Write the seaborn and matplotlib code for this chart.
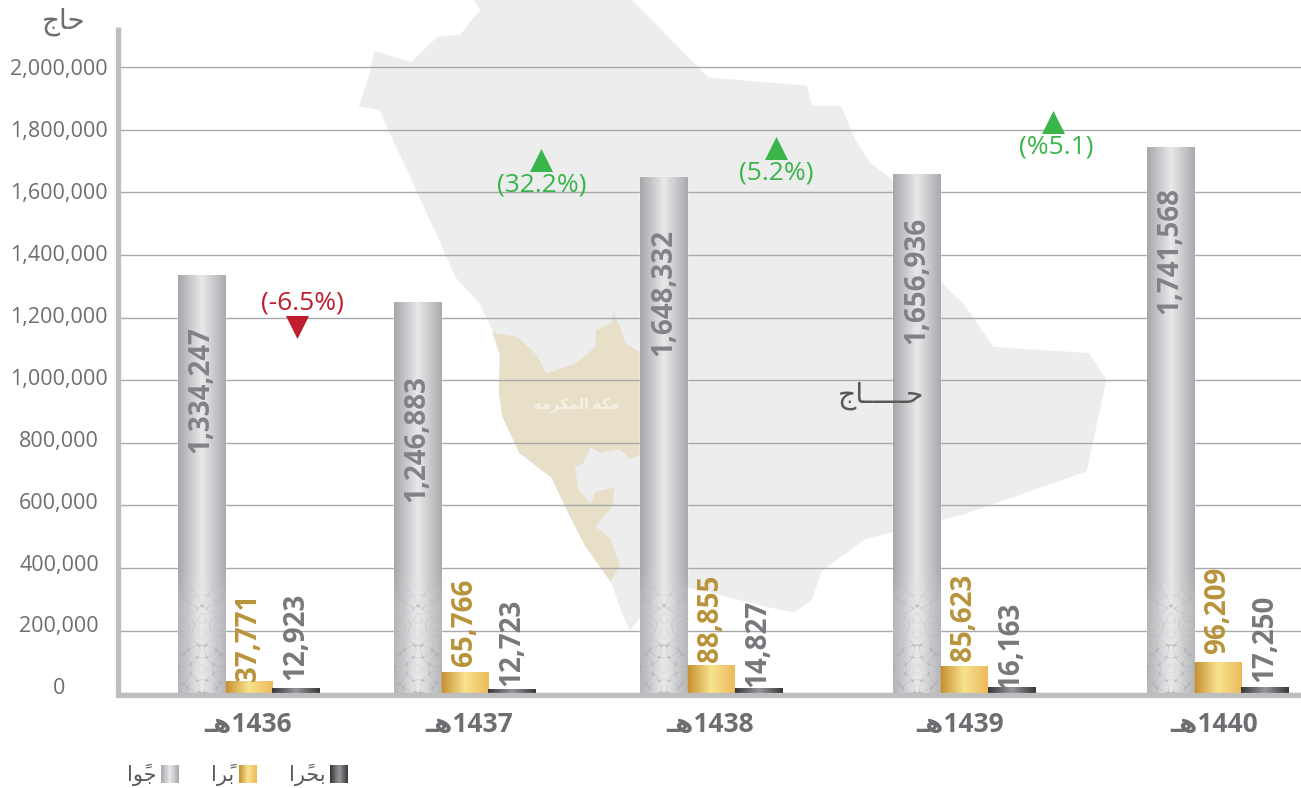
import numpy as np
import pandas as pd
import matplotlib
matplotlib.use("Agg")
import matplotlib.pyplot as plt
from matplotlib.patches import Polygon, Rectangle
from matplotlib.legend_handler import HandlerBase
from matplotlib.colors import LinearSegmentedColormap, to_rgb
from matplotlib.transforms import ScaledTranslation
import seaborn as sns

# ---------- data ----------
years = ["1436", "1437", "1438", "1439", "1440"]
air = [1334247, 1246883, 1648332, 1656936, 1741568]
land = [37771, 65766, 88855, 85623, 96209]
sea = [12923, 12723, 14827, 16163, 17250]
change_labels = ["(-6.5%)", "(32.2%)", "(5.2%)", "(%5.1)"]
hijri_suffix = "\u0640\uFEEB"              # visual-order Arabic presentation forms
mode_air = "\uFE8D\uFEEE\u064B\uFE9F"
mode_land = "\uFE8D\uFEAE\u064B\uFE91"
mode_sea = "\uFE8D\uFEAE\u064B\uFEA4\uFE91"
unit_short = "\uFE9D\uFE8E\uFEA3"
unit_long = "\uFE9D\uFE8E\u0640\u0640\u0640\u0640\u0640\uFEA3"
mecca = "\uFEEA\uFEE3\uFEAE\uFEDC\uFEE4\uFEDF\uFE8D \uFE94\uFEDC\uFEE3"
y_ticks = [0, 200000, 400000, 600000, 800000, 1000000, 1200000, 1400000, 1600000, 1800000, 2000000]

# ---------- layout (figure pixels) ----------
W, H = 1301, 788
Y0, PX_PER_200K, AX_TOP, AX_LEFT = 693.3, 62.6, 27, 118
group_px = [248.5, 464.5, 711, 964, 1217.5]
xtick_shift_px = [0, 5, -1, -4, -3.5]
air_label_y = [390, 438, 292.5, 280.5, 251]
land_label_y = [637, 622.5, 618, 617, 610]
sea_label_y = [636, 642.5, 643, 645.5, 638]
change_pos = [(302, 303), (542, 185), (776, 173), (1056, 147)]
tri_pos = [(297.5, 327.5), (541.5, 160), (776.5, 148), (1053, 122)]

GREY = "#6d6e71"
GREEN = "#3ab54a"
RED = "#be1e2d"


def py(p):
    return (Y0 - p) / PX_PER_200K * 200000


sns.set_theme(style="white")
plt.rcParams["font.family"] = ["Open Sans", "DejaVu Sans"]

fig = plt.figure(figsize=(W / 100, H / 100), dpi=100)
fig.patch.set_facecolor("white")

# ---------- background map ----------
bg = fig.add_axes([0, 0, 1, 1], zorder=0)
bg.set_xlim(0, W)
bg.set_ylim(H, 0)
bg.axis("off")


def zoom_pts(pts):
    return [(350 + a / 2.036, b / 2.45) for a, b in pts]


map_outline = [(250, -5), (265, 25), (240, 60), (225, 85), (178, 90), (125, 152), (50, 125), (40, 180),
               (18, 260), (60, 270), (90, 350), (125, 440), (155, 520), (175, 570), (215, 680), (265, 745),
               (290, 810), (305, 870), (303, 960), (310, 1020), (345, 1110), (410, 1170), (450, 1270),
               (480, 1340), (530, 1420), (550, 1490), (570, 1545), (600, 1500), (690, 1440), (760, 1460),
               (860, 1490), (905, 1500), (940, 1470), (960, 1400), (1050, 1320), (1250, 1260), (1500, 1155),
               (1540, 930), (1505, 865), (1310, 850), (1250, 745), (1210, 700), (1190, 660), (1100, 435),
               (1060, 400), (1030, 345), (1000, 260), (940, 258), (930, 210), (730, 190), (570, -5)]
mecca_outline = [(290, 815), (340, 825), (380, 870), (400, 915), (460, 890), (500, 850), (500, 810), (535, 790),
                 (535, 762), (550, 800), (560, 840), (600, 870), (600, 1110), (570, 1125), (550, 1100), (510, 1110),
                 (490, 1095), (475, 1135), (458, 1145), (465, 1200), (490, 1235), (500, 1205), (538, 1195),
                 (535, 1240), (500, 1290), (530, 1320), (550, 1385), (530, 1425), (480, 1340), (450, 1270),
                 (410, 1170), (345, 1110), (310, 1020), (303, 960), (305, 870)]
bg.add_patch(Polygon(zoom_pts(map_outline), closed=True, fc="#ededee", ec="none"))
bg.add_patch(Polygon(zoom_pts(mecca_outline), closed=True, fc="#e8dfc8", ec="none"))
bg.text(576, 405, mecca, ha="center", va="center", color="#f4f0e4", fontsize=10.5, fontweight="bold")

# ---------- bars ----------
ax = fig.add_axes([AX_LEFT / W, (H - Y0) / H, 1 - AX_LEFT / W, (Y0 - AX_TOP) / H], zorder=1)
ax.patch.set_visible(False)

df = pd.DataFrame({
    "pos": np.tile(group_px, 3),
    "value": air + land + sea,
    "mode": ["air"] * 5 + ["land"] * 5 + ["sea"] * 5,
})
sns.barplot(data=df, x="pos", y="value", hue="mode", hue_order=["air", "land", "sea"],
            palette=["#c8c9cb", "#eec76f", "#66676a"], native_scale=True, width=0.656, gap=0,
            saturation=1, legend=False, ax=ax, zorder=2)

ax.set_xlim(AX_LEFT, W)
ax.set_ylim(0, py(AX_TOP))

stops = {
    "air": ["#a5a7aa", "#e8e9ea", "#a8aaad"],
    "land": ["#c58d2e", "#f7e38e", "#edba5c"],
    "sea": ["#37373a", "#97989b", "#37373a"],
}
cmaps = {k: LinearSegmentedColormap.from_list(k, v) for k, v in stops.items()}
grad = np.linspace(0, 1, 128).reshape(1, -1)
bar_patches = list(ax.patches)
modes = ["air"] * 5 + ["land"] * 5 + ["sea"] * 5


def star_texture(w, h):
    # decorative arabesque overlay at the foot of the air bars
    yy, xx = np.mgrid[0:h * 4, 0:w * 4] / 4.0
    xx = xx - w / 2
    yy = yy - (h - 24)
    f = sum(np.cos(2 * np.pi / 12 * (xx * np.cos(t) + yy * np.sin(t))) for t in np.arange(4) * np.pi / 4)
    line = np.clip(1 - np.abs(f - 0.4) / 0.3, 0, 1)
    rgba = np.zeros(f.shape + (4,))
    glow = np.exp(-(xx / (w * 0.3)) ** 2)
    base = np.array(to_rgb("#bfc0c3"))
    light = np.array(to_rgb("#e9e9ea"))
    dark = np.array(to_rgb("#a6a8ab"))
    for c in range(3):
        rgba[..., c] = (base[c] * (1 - glow) + light[c] * glow) * (1 - line) + dark[c] * line
    fade = np.clip((yy + h - 24) / (h * 0.3), 0, 1)
    rgba[..., 3] = (0.6 + 0.4 * line) * fade
    return rgba


for patch, mode in zip(bar_patches, modes):
    x0, w, h = patch.get_x(), patch.get_width(), patch.get_height()
    ax.imshow(grad, cmap=cmaps[mode], extent=[x0, x0 + w, 0, h], aspect="auto", zorder=2.1,
              interpolation="bilinear")
    if mode == "air":
        ax.imshow(star_texture(48, 124), extent=[x0, x0 + w, 0, py(569)], aspect="auto", zorder=2.2,
                  origin="upper", interpolation="bilinear")

ax.set_xlim(AX_LEFT, W)
ax.set_ylim(0, py(AX_TOP))

# ---------- value labels ----------
label_styles = [(air, air_label_y, "#808285"), (land, land_label_y, "#b8933a"), (sea, sea_label_y, "#77787b")]
for s, (vals, ys, color) in enumerate(label_styles):
    for i, v in enumerate(vals):
        p = bar_patches[s * 5 + i]
        ax.text(p.get_x() + p.get_width() / 2, py(ys[i]), f"{v:,}", rotation=90, ha="center", va="center",
                rotation_mode="anchor", color=color, fontsize=20, fontweight="bold", zorder=4)

# ---------- change markers ----------
for i, ((tx, ty), lab) in enumerate(zip(change_pos, change_labels)):
    color = RED if i == 0 else GREEN
    ax.text(tx, py(ty), lab, ha="center", va="center", color=color, fontsize=19, zorder=4)
    mx, my = tri_pos[i]
    ax.scatter([mx], [py(my)], marker="v" if i == 0 else "^", s=275, color=color, linewidths=0, zorder=4)

# ---------- axes ----------
ax.set_xlabel("")
ax.set_ylabel("")
ax.set_yticks(y_ticks)
ax.set_yticklabels([f"{v:,}" for v in y_ticks])
ax.set_xticks(group_px)
ax.set_xticklabels([hijri_suffix + y for y in years])
ax.grid(axis="y", color="#a7a9ac", linewidth=1.0, zorder=1)
ax.grid(axis="x", visible=False)
ax.set_axisbelow(True)
for side in ["top", "right"]:
    ax.spines[side].set_visible(False)
for side in ["left", "bottom"]:
    ax.spines[side].set_color("#bcbec0")
    ax.spines[side].set_linewidth(3.8)
    ax.spines[side].set_zorder(3)
ax.spines["left"].set_capstyle("butt")
ax.spines["bottom"].set_position(("outward", 1.0))
ax.tick_params(axis="y", length=0, pad=42.5, labelsize=15.5, labelcolor=GREY)
ax.tick_params(axis="x", length=0, pad=12, labelsize=19, labelcolor=GREY)
for v, lab in zip(y_ticks, ax.get_yticklabels()):
    lab.set_ha("center")
    shift = 7 * (1 - v / 2000000)
    lab.set_transform(lab.get_transform() + ScaledTranslation(0, shift / 100, fig.dpi_scale_trans))
for dx, lab in zip(xtick_shift_px, ax.get_xticklabels()):
    lab.set_fontweight("bold")
    lab.set_transform(lab.get_transform() + ScaledTranslation(dx / 100, 0, fig.dpi_scale_trans))


# ---------- legend ----------
class GradientHandler(HandlerBase):
    def __init__(self, cmap):
        super().__init__()
        self.cmap = cmap

    def create_artists(self, legend, orig, xd, yd, width, height, fontsize, trans):
        n = 24
        return [Rectangle((-xd + width * k / n, -yd), width / n * 1.05, height, transform=trans,
                          fc=self.cmap(k / (n - 1)), ec="none") for k in range(n)]


handles = [Rectangle((0, 0), 1, 1) for _ in range(3)]
leg = fig.legend(handles, [mode_air, mode_land, mode_sea], ncol=3, frameon=False, markerfirst=False,
                 handler_map={h: GradientHandler(cmaps[m]) for h, m in zip(handles, ["air", "land", "sea"])},
                 loc="center left", bbox_to_anchor=(127 / W, 1 - 775 / H), borderaxespad=0, borderpad=0,
                 prop={"size": 15}, labelcolor="#58595b", handlelength=0.88, handleheight=1.0,
                 handletextpad=0.2, columnspacing=1.55)

# ---------- units ----------
fig.text(64 / W, 1 - 22 / H, unit_short, ha="center", va="center", color=GREY, fontsize=20, zorder=5)
fig.text(881 / W, 1 - 396 / H, unit_long, ha="center", va="center", color="#58595b", fontsize=20.5, zorder=5)

fig.savefig("out.png", dpi=100, facecolor="white")
